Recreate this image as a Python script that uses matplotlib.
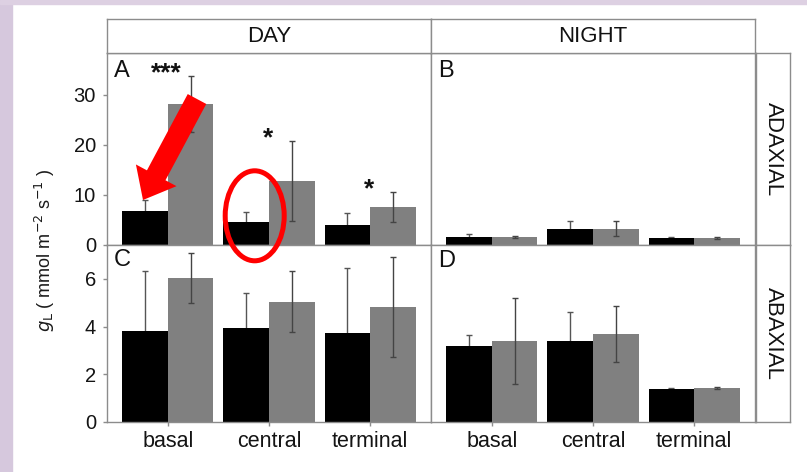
import matplotlib
matplotlib.use('Agg')
import matplotlib.pyplot as plt
from matplotlib.patches import FancyArrow, Ellipse, Rectangle
import numpy as np

plt.rcParams['font.family'] = ['Liberation Sans', 'DejaVu Sans']

positions = ['basal', 'central', 'terminal']

# A: day, adaxial
day_adax_black = [6.75, 4.55, 3.95]
day_adax_black_err = [2.3, 2.0, 2.5]
day_adax_grey = [28.2, 12.8, 7.55]
day_adax_grey_err = [5.6, 8.0, 3.0]
day_adax_stars = ['***', '*', '*']

# B: night, adaxial
night_adax_black = [1.6, 3.2, 1.35]
night_adax_black_err = [0.45, 1.5, 0.1]
night_adax_grey = [1.5, 3.2, 1.4]
night_adax_grey_err = [0.25, 1.5, 0.2]

# C: day, abaxial
day_abax_black = [3.83, 3.92, 3.72]
day_abax_black_err = [2.5, 1.5, 2.76]
day_abax_grey = [6.06, 5.05, 4.82]
day_abax_grey_err = [1.05, 1.27, 2.1]

# D: night, abaxial
night_abax_black = [3.2, 3.4, 1.39]
night_abax_black_err = [0.45, 1.23, 0.03]
night_abax_grey = [3.4, 3.7, 1.42]
night_abax_grey_err = [1.8, 1.17, 0.05]

W, H = 807, 472
fig = plt.figure(figsize=(W / 100, H / 100), dpi=100)
fig.set_facecolor('white')

# bits of the slide background
fig.patches.append(Rectangle((0, 0), 12 / W, 1, transform=fig.transFigure,
                             color='#d6c8dd', zorder=0))
fig.patches.append(Rectangle((0, 1 - 4 / H), 1, 4 / H, transform=fig.transFigure,
                             color='#ddd0e2', zorder=0))

edge = '#8c8c8c'


def px_box(x0, y0, x1, y1):
    return [x0 / W, 1 - y1 / H, (x1 - x0) / W, (y1 - y0) / H]


def style(ax):
    for s in ax.spines.values():
        s.set_color(edge)
        s.set_linewidth(1)
    ax.tick_params(colors=edge, labelcolor='#141414', length=3, width=1)


def panel(ax, black, black_err, grey, grey_err, letter, ylim, ly):
    x = np.arange(len(positions))
    w = 0.45
    ax.bar(x - w / 2, black, w, color='black', zorder=2)
    ax.errorbar(x - w / 2, black, yerr=black_err, fmt='none', ecolor='#555555',
                elinewidth=1, capsize=2, capthick=1, zorder=1)
    ax.bar(x + w / 2, grey, w, color='#808080', zorder=2)
    ax.errorbar(x + w / 2, grey, yerr=grey_err, fmt='none', ecolor='#444444',
                elinewidth=1, capsize=2, capthick=1, zorder=3)
    ax.set_xlim(-0.6, 2.6)
    ax.set_ylim(*ylim)
    ax.text(0.021, ly, letter, transform=ax.transAxes, fontsize=17,
            ha='left', va='top', color='#111111')
    style(ax)


axA = fig.add_axes(px_box(107, 53, 431, 244.7))
axB = fig.add_axes(px_box(431, 53, 755, 244.7))
axC = fig.add_axes(px_box(107, 244.7, 431, 421.7))
axD = fig.add_axes(px_box(431, 244.7, 755, 421.7))

panel(axA, day_adax_black, day_adax_black_err, day_adax_grey, day_adax_grey_err,
      'A', (0, 38.4), 0.962)
panel(axB, night_adax_black, night_adax_black_err, night_adax_grey,
      night_adax_grey_err, 'B', (0, 38.4), 0.962)
panel(axC, day_abax_black, day_abax_black_err, day_abax_grey, day_abax_grey_err,
      'C', (0, 7.44), 0.975)
panel(axD, night_abax_black, night_abax_black_err, night_abax_grey,
      night_abax_grey_err, 'D', (0, 7.44), 0.968)

axA.set_yticks([0, 10, 20, 30])
axC.set_yticks([0, 2, 4, 6])
for ax in (axA, axC):
    ax.tick_params(axis='y', labelsize=14.5, pad=5)
for ax in (axB, axD):
    ax.set_yticks([])
for ax in (axA, axB):
    ax.set_xticks([])
for ax in (axC, axD):
    ax.set_xticks(range(len(positions)))
    ax.set_xticklabels(positions, fontsize=15.5)
    ax.tick_params(axis='x', pad=4)

# significance stars above the grey bars
for i, s in enumerate(day_adax_stars):
    top = day_adax_grey[i] + day_adax_grey_err[i]
    axA.annotate(s, (i, top), xytext=(-1, -3), textcoords='offset points',
                 ha='center', va='baseline', fontsize=19, fontweight='bold',
                 color='#111111')

# facet strips
for box, label in ((px_box(107, 19, 431, 53), 'DAY'), (px_box(431, 19, 755, 53), 'NIGHT')):
    s = fig.add_axes(box)
    s.set_xticks([]); s.set_yticks([])
    style(s)
    s.text(0.5, 0.5, label, ha='center', va='center', fontsize=16, color='#111111',
           transform=s.transAxes)
for box, label in ((px_box(756, 53, 790, 244.7), 'ADAXIAL'),
                   (px_box(756, 244.7, 790, 421.7), 'ABAXIAL')):
    s = fig.add_axes(box)
    s.set_xticks([]); s.set_yticks([])
    style(s)
    s.text(0.5, 0.5, label, ha='center', va='center', fontsize=16, color='#111111',
           rotation=-90, transform=s.transAxes)

fig.text(45 / W, 1 - 250 / H, r'$g_\mathrm{L}$ ( mmol m$^{-2}$ s$^{-1}$ )',
         rotation=90, ha='center', va='center', fontsize=13, color='#1a1a1a')

# red highlights drawn on top, in pixel units
ov = fig.add_axes([0, 0, 1, 1], zorder=10)
ov.set_xlim(0, W)
ov.set_ylim(H, 0)
ov.axis('off')
ov.patch.set_alpha(0)
ov.add_patch(FancyArrow(197, 99, 143 - 197, 200 - 99, width=21, head_width=46,
                        head_length=28, length_includes_head=True,
                        color='#ff0000', lw=0))
ov.add_patch(Ellipse((254.7, 215.8), 59, 90, fill=False, ec='#ff0000', lw=3.6))

fig.savefig('out.png', dpi=100)
